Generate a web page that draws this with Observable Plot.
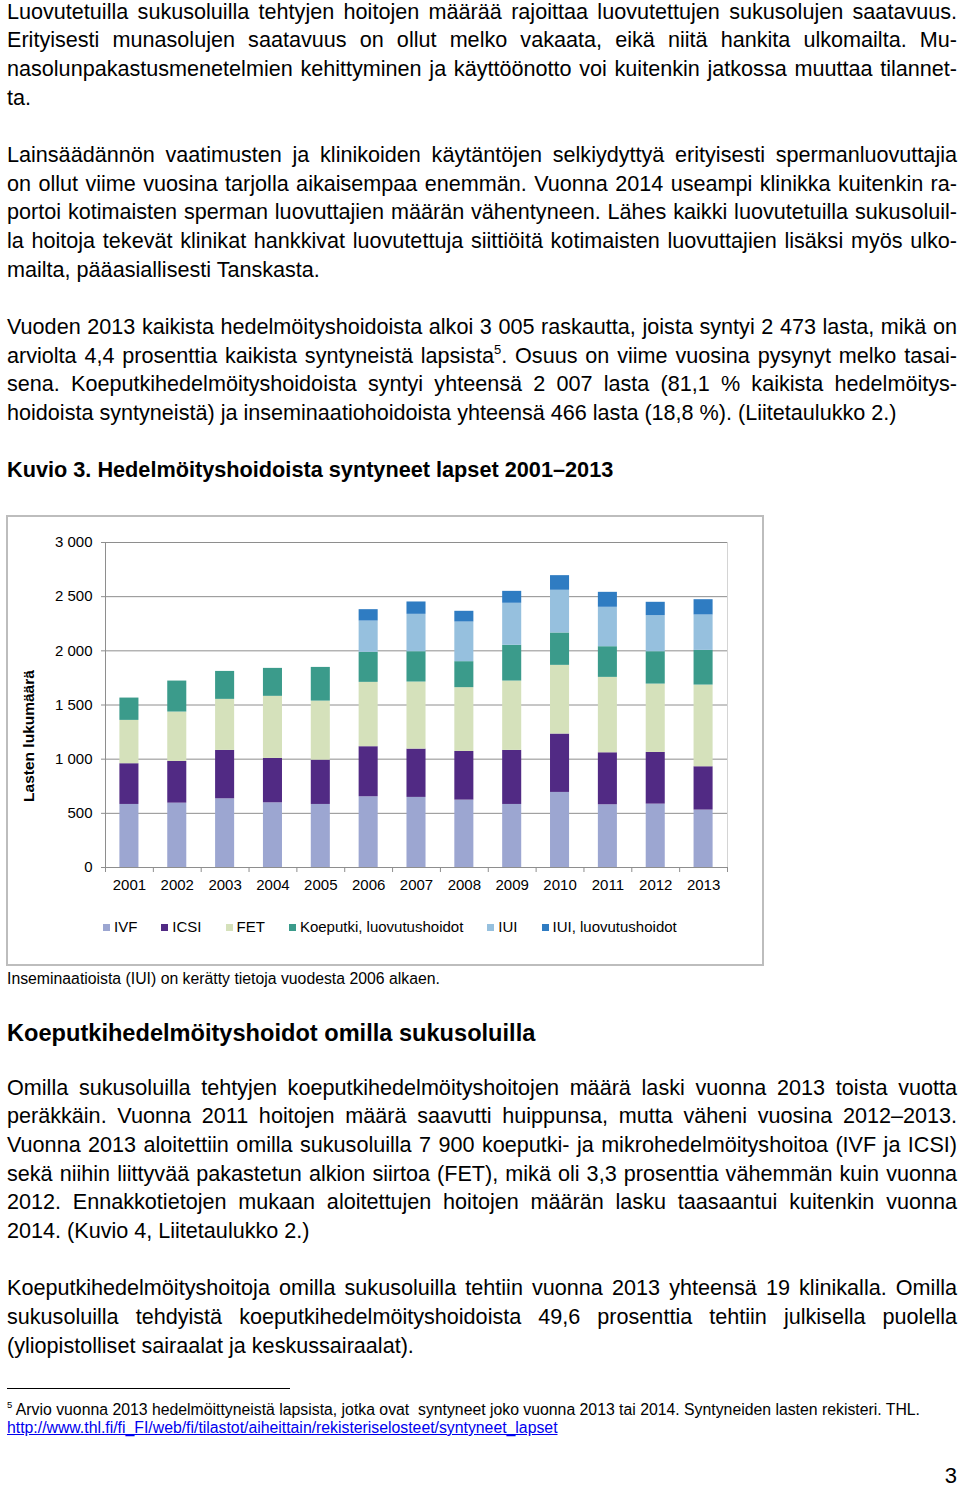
<!DOCTYPE html>
<html><head><meta charset="utf-8">
<script src="https://cdn.jsdelivr.net/npm/d3@7"></script>
<script src="https://cdn.jsdelivr.net/npm/@observablehq/plot@0.6"></script>
<style>
body{margin:0;background:#fff;width:960px;height:1490px;position:relative;overflow:hidden;font-family:"Liberation Sans",Arial,sans-serif;color:#000}
.blk{position:absolute;left:7px;width:950px;font-size:21.6px;line-height:28.65px}
.l{text-align:justify;text-align-last:justify}
.e{text-align:left;text-align-last:left}
.gap{height:28.65px}
.h1{font-weight:bold;font-size:21.7px}
.h2{position:absolute;left:7px;top:1018px;font-weight:bold;font-size:23.6px;line-height:30px;white-space:nowrap}
sup{font-size:0.6em;line-height:0;vertical-align:0.7em}
#frame{position:absolute;left:6px;top:515px;width:754px;height:447px;border:2px solid #bdbdbd;background:#fff}
#chart{position:absolute;left:0;top:0}
#ytitle{position:absolute;left:21px;top:219px;transform:translate(-50%,-50%) rotate(-90deg);font-weight:bold;font-size:15.5px;white-space:nowrap}
#legend{position:absolute;left:95px;top:401px;display:flex;gap:24px;font-size:15px;line-height:18px;white-space:nowrap}
#legend .it{display:flex;align-items:center}
#legend .sw{width:7px;height:7px;margin-right:4px}
#caption{position:absolute;left:7px;top:969px;font-size:15.8px;line-height:20px;white-space:nowrap}
#rule{position:absolute;left:7px;top:1388px;width:283px;height:1px;background:#000}
#foot{position:absolute;left:7px;top:1401px;font-size:15.8px;line-height:18px;white-space:nowrap}
#foot a{color:#0000ee;text-decoration:underline}
#pnum{position:absolute;right:3px;top:1463px;font-size:22px;line-height:26px}
</style></head>
<body>
<div class="blk" style="top:-2.3px">
<div class="l">Luovutetuilla sukusoluilla tehtyjen hoitojen määrää rajoittaa luovutettujen sukusolujen saatavuus.</div>
<div class="l">Erityisesti munasolujen saatavuus on ollut melko vakaata, eikä niitä hankita ulkomailta. Mu-</div>
<div class="l">nasolunpakastusmenetelmien kehittyminen ja käyttöönotto voi kuitenkin jatkossa muuttaa tilannet-</div>
<div class="l e">ta.</div>
<div class="gap"></div>
<div class="l">Lainsäädännön vaatimusten ja klinikoiden käytäntöjen selkiydyttyä erityisesti spermanluovuttajia</div>
<div class="l">on ollut viime vuosina tarjolla aikaisempaa enemmän. Vuonna 2014 useampi klinikka kuitenkin ra-</div>
<div class="l">portoi kotimaisten sperman luovuttajien määrän vähentyneen. Lähes kaikki luovutetuilla sukusoluil-</div>
<div class="l">la hoitoja tekevät klinikat hankkivat luovutettuja siittiöitä kotimaisten luovuttajien lisäksi myös ulko-</div>
<div class="l e">mailta, pääasiallisesti Tanskasta.</div>
<div class="gap"></div>
<div class="l">Vuoden 2013 kaikista hedelmöityshoidoista alkoi 3 005 raskautta, joista syntyi 2 473 lasta, mikä on</div>
<div class="l">arviolta 4,4 prosenttia kaikista syntyneistä lapsista<sup>5</sup>. Osuus on viime vuosina pysynyt melko tasai-</div>
<div class="l">sena. Koeputkihedelmöityshoidoista syntyi yhteensä 2 007 lasta (81,1 % kaikista hedelmöitys-</div>
<div class="l e">hoidoista syntyneistä) ja inseminaatiohoidoista yhteensä 466 lasta (18,8 %). (Liitetaulukko 2.)</div>
<div class="gap"></div>
<div class="e h1">Kuvio 3. Hedelmöityshoidoista syntyneet lapset 2001–2013</div>
</div>

<div id="frame">
<div id="chart"></div>
<div id="ytitle">Lasten lukumäärä</div>
<div id="legend"></div>
</div>
<div id="caption">Inseminaatioista (IUI) on kerätty tietoja vuodesta 2006 alkaen.</div>

<div class="h2">Koeputkihedelmöityshoidot omilla sukusoluilla</div>
<div class="blk" style="top:1073.7px">
<div class="l">Omilla sukusoluilla tehtyjen koeputkihedelmöityshoitojen määrä laski vuonna 2013 toista vuotta</div>
<div class="l">peräkkäin. Vuonna 2011 hoitojen määrä saavutti huippunsa, mutta väheni vuosina 2012–2013.</div>
<div class="l">Vuonna 2013 aloitettiin omilla sukusoluilla 7 900 koeputki- ja mikrohedelmöityshoitoa (IVF ja ICSI)</div>
<div class="l">sekä niihin liittyvää pakastetun alkion siirtoa (FET), mikä oli 3,3 prosenttia vähemmän kuin vuonna</div>
<div class="l">2012. Ennakkotietojen mukaan aloitettujen hoitojen määrän lasku taasaantui kuitenkin vuonna</div>
<div class="l e">2014. (Kuvio 4, Liitetaulukko 2.)</div>
<div class="gap"></div>
<div class="l">Koeputkihedelmöityshoitoja omilla sukusoluilla tehtiin vuonna 2013 yhteensä 19 klinikalla. Omilla</div>
<div class="l">sukusoluilla tehdyistä koeputkihedelmöityshoidoista 49,6 prosenttia tehtiin julkisella puolella</div>
<div class="l e">(yliopistolliset sairaalat ja keskussairaalat).</div>
</div>

<div id="rule"></div>
<div id="foot"><sup>5</sup> Arvio vuonna 2013 hedelmöittyneistä lapsista, jotka ovat&nbsp; syntyneet joko vuonna 2013 tai 2014. Syntyneiden lasten rekisteri. THL.<br><a href="#">http://www.thl.fi/fi_FI/web/fi/tilastot/aiheittain/rekisteriselosteet/syntyneet_lapset</a></div>
<div id="pnum">3</div>

<script>
const years = [2001, 2002, 2003, 2004, 2005, 2006, 2007, 2008, 2009, 2010, 2011, 2012, 2013];
const seriesNames = ["IVF", "ICSI", "FET", "Koeputki, luovutushoidot", "IUI", "IUI, luovutushoidot"];
const seriesColors = ["#9ca6d1", "#512a84", "#d5e1bb", "#3b9b8b", "#96c0de", "#2f7cc2"];
const ivf      = [582, 594, 634, 597, 582, 653, 647, 622, 582, 693, 579, 585, 530];
const icsi     = [376, 385, 447, 410, 409, 462, 446, 449, 499, 539, 480, 477, 400];
const fet      = [400, 456, 471, 573, 545, 594, 619, 589, 640, 634, 696, 631, 754];
const koeputki = [206, 286, 258, 258, 311, 277, 280, 240, 330, 299, 283, 299, 320];
const iui      = [null, null, null, null, null, 289, 345, 366, 388, 394, 364, 333, 327];
const iuiLuov  = [null, null, null, null, null, 105, 114, 99, 110, 135, 138, 123, 141];
const yTicks = [0, 500, 1000, 1500, 2000, 2500, 3000];

const seriesValues = [ivf, icsi, fet, koeputki, iui, iuiLuov];
const table = years.flatMap((year, i) =>
  seriesNames.map((name, k) => ({year, series: name, value: seriesValues[k][i]}))
).filter(d => d.value != null);

const fi = d3.formatLocale({decimal: ",", thousands: "\u00a0", grouping: [3], currency: ["", ""]});
const fmt = fi.format(",");
const boundaries = years.map(y => y - 0.5).concat([years[years.length - 1] + 0.5]);
const lineGray = "#8e8e8e";

const chart = Plot.plot({
  width: 754, height: 390,
  marginLeft: 97, marginRight: 35, marginTop: 25, marginBottom: 40,
  style: {fontFamily: "'Liberation Sans', Arial, sans-serif", fontSize: "15px", background: "transparent", color: "#000"},
  x: {type: "linear", domain: [boundaries[0], boundaries[boundaries.length - 1]]},
  y: {domain: [0, 3000]},
  color: {domain: seriesNames, range: seriesColors},
  marks: [
    Plot.ruleY(yTicks.slice(1), {stroke: lineGray, strokeWidth: 1}),
    Plot.ruleX([boundaries[boundaries.length - 1]], {stroke: "#d4d4d4"}),
    Plot.rectY(table, Plot.stackY({
      x1: d => d.year - 0.5, x2: d => d.year + 0.5,
      y: "value", fill: "series", insetLeft: 14.4, insetRight: 14.4
    })),
    Plot.ruleY([0], {stroke: lineGray}),
    Plot.ruleX([boundaries[0]], {stroke: lineGray}),
    Plot.axisY({ticks: yTicks, tickSize: 4, tickPadding: 9, tickFormat: fmt, stroke: lineGray, fontSize: 15, label: null}),
    Plot.axisX({ticks: boundaries, tickSize: 5, tickFormat: () => "", stroke: lineGray, label: null}),
    Plot.axisX({ticks: years, tickSize: 0, tickPadding: 12, tickFormat: d => String(d), fontSize: 15, label: null})
  ]
});
document.getElementById("chart").appendChild(chart);

const legend = document.getElementById("legend");
seriesNames.forEach((name, k) => {
  const it = document.createElement("div");
  it.className = "it";
  const sw = document.createElement("span");
  sw.className = "sw";
  sw.style.background = seriesColors[k];
  const tx = document.createElement("span");
  tx.textContent = name;
  it.appendChild(sw); it.appendChild(tx);
  legend.appendChild(it);
});
</script>
</body></html>
